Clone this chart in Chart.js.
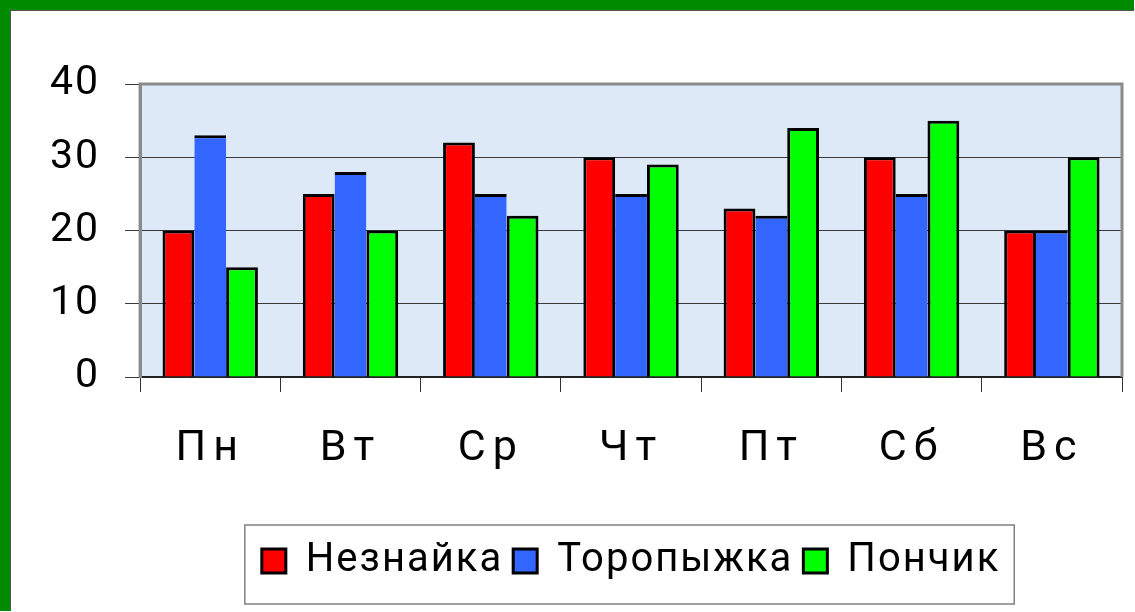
<!DOCTYPE html>
<html>
<head>
<meta charset="utf-8">
<script src="https://cdn.jsdelivr.net/npm/chart.js@4/dist/chart.umd.min.js"></script>
<style>
  html, body { margin: 0; padding: 0; background: #fff; }
  #frame {
    width: 1124px; height: 601px;
    border-left: 10px solid #008a00; border-top: 10px solid #008a00;
    position: relative;
  }
  #inner {
    position: absolute; left: 0; top: 0; width: 1124px; height: 601px;
    border-left: 1px solid #555; border-top: 1px solid #555;
    box-sizing: border-box;
  }
</style>
</head>
<body>
<div id="frame"><div id="inner"><canvas id="daysChart"></canvas></div></div>
<script>
// days of the week
const days = ['Пн', 'Вт', 'Ср', 'Чт', 'Пт', 'Сб', 'Вс'];

// values per character
const neznaika = [20, 25, 32, 30, 23, 30, 20];
const toropyzhka = [33, 28, 25, 25, 22, 25, 20];
const ponchik = [15, 20, 22, 29, 34, 35, 30];

// y axis ticks
const yTicks = [0, 10, 20, 30, 40];

// light blue plot background + gray frame, like the old excel chart
const plotArea = {
  id: 'plotArea',
  beforeUpdate(chart) {
    chart.ctx.letterSpacing = '2px';
  },
  beforeDraw(chart) {
    const { ctx, chartArea: a } = chart;
    ctx.letterSpacing = '2px';
    ctx.save();
    ctx.fillStyle = '#dde9f7';
    ctx.fillRect(a.left, a.top, a.right - a.left, a.bottom - a.top);
    ctx.restore();
  },
  afterDatasetsDraw(chart) {
    const { ctx, chartArea: a } = chart;
    ctx.save();
    ctx.strokeStyle = '#8a8a8a';
    ctx.lineWidth = 3;
    ctx.beginPath();
    ctx.moveTo(a.left, a.bottom);
    ctx.lineTo(a.left, a.top);
    ctx.lineTo(a.right, a.top);
    ctx.lineTo(a.right, a.bottom);
    ctx.stroke();
    ctx.restore();
    // x labels are drawn after this (ticks.z = 1), spaced wider
    ctx.letterSpacing = '7px';
  },
  afterDraw(chart) {
    chart.ctx.letterSpacing = '2px';
  }
};

// box around the legend
const legendFrame = {
  id: 'legendFrame',
  afterDraw(chart) {
    const boxes = chart.legend.legendHitBoxes;
    if (!boxes || !boxes.length) return;
    const mid = boxes[0].top + boxes[0].height / 2;
    const left = Math.min(...boxes.map(b => b.left)) - 17;
    const right = Math.max(...boxes.map(b => b.left + b.width)) + 14;
    const top = mid - 36;
    const bottom = mid + 43;
    const ctx = chart.ctx;
    ctx.save();
    ctx.strokeStyle = '#808080';
    ctx.lineWidth = 1.5;
    ctx.strokeRect(left, top, right - left, bottom - top);
    ctx.restore();
  }
};

function createChart() {
  const ctx = document.getElementById('daysChart').getContext('2d');

  new Chart(ctx, {
    type: 'bar',
    data: {
      labels: days,
      datasets: [
        {
          label: 'Незнайка',
          data: neznaika,
          backgroundColor: '#ff0000',
          borderColor: '#000',
          borderWidth: { top: 3, left: 3, right: 3, bottom: 0 },
        },
        {
          label: 'Торопыжка',
          data: toropyzhka,
          backgroundColor: '#3366ff',
          borderColor: '#000',
          borderWidth: { top: 3, left: 0, right: 0, bottom: 0 },
        },
        {
          label: 'Пончик',
          data: ponchik,
          backgroundColor: '#00ff00',
          borderColor: '#000',
          borderWidth: { top: 3, left: 3, right: 3, bottom: 0 },
        },
      ],
    },
    options: {
      responsive: true,
      maintainAspectRatio: false,
      animation: false,
      categoryPercentage: 0.68,
      barPercentage: 1.0,
      layout: { padding: { left: 14, right: 12, top: 73, bottom: 20 } },
      plugins: {
        tooltip: { enabled: false },
        legend: {
          position: 'bottom',
          fullSize: false,
          labels: {
            color: '#000',
            font: { family: 'Roboto', size: 40 },
            boxWidth: 24,
            boxHeight: 24,
            padding: 10,
            generateLabels(chart) {
              const items = Chart.defaults.plugins.legend.labels.generateLabels(chart);
              items.forEach(it => { it.lineWidth = 3; it.strokeStyle = '#000'; });
              return items;
            },
          },
        },
      },
      scales: {
        x: {
          grid: {
            display: true,
            drawOnChartArea: false,
            color: '#333',
            tickLength: 15,
          },
          border: { color: '#222', width: 2 },
          ticks: {
            color: '#000',
            padding: 31,
            z: 1,
            font: { family: 'Roboto', size: 43 },
          },
          afterFit(scale) { scale.height = 154; },
        },
        y: {
          min: 0,
          max: 40,
          afterBuildTicks(scale) { scale.ticks = yTicks.map(v => ({ value: v })); },
          grid: { color: '#3a3a3a', lineWidth: 1, tickLength: 15 },
          border: { color: '#8a8a8a', width: 3 },
          ticks: {
            color: '#000',
            padding: 25,
            font: { family: 'Roboto', size: 41 },
          },
        },
      },
    },
    plugins: [plotArea, legendFrame],
  });
}

window.onload = createChart;
</script>
</body>
</html>
